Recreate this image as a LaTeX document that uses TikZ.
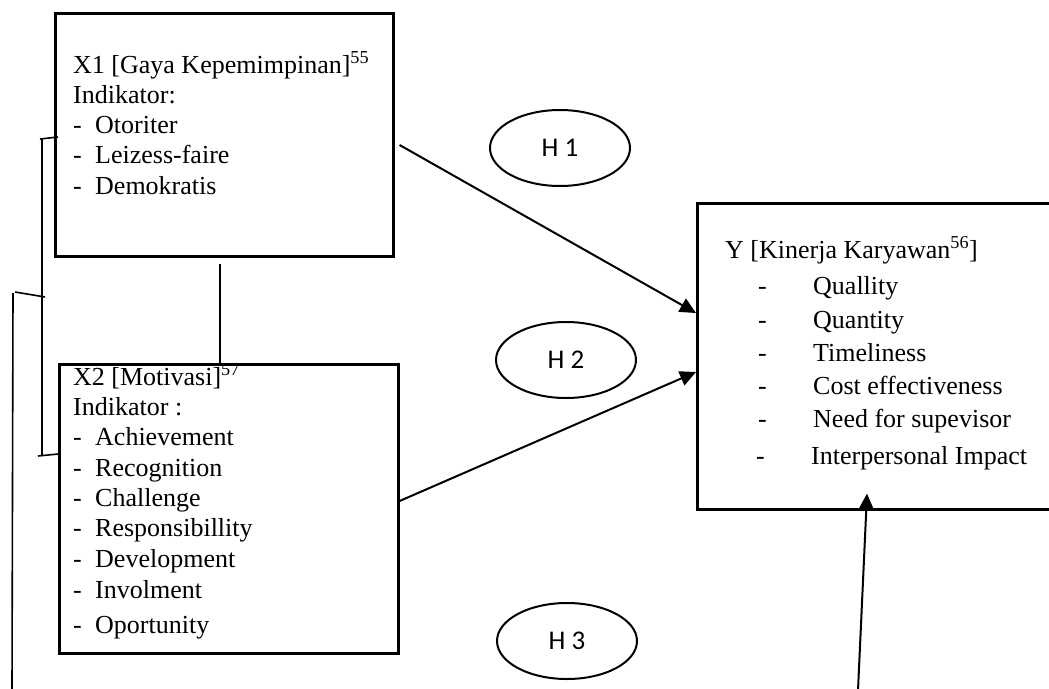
\documentclass[tikz,border=0pt]{standalone}
\usepackage{fontspec}
\setmainfont{Liberation Serif}
\newfontfamily\hfont{Carlito}
\usetikzlibrary{arrows.meta,shapes.geometric,calc}
\newcommand\itmx[1]{\makebox[22pt][l]{-}#1}
\newcommand\itmy[1]{\makebox[55pt][l]{-}#1}
\begin{document}
\begin{tikzpicture}[x=1pt,y=-1pt,
  box/.style={draw,line width=2.6pt,inner sep=0pt,anchor=north west},
  txt/.style={anchor=base west,inner sep=0pt,font=\fontsize{26}{30}\selectfont},
  hyp/.style={draw,ellipse,line width=2pt,inner sep=0pt,minimum width=140pt,minimum height=76pt,font=\hfont\fontsize{27}{30}\selectfont},
  arr/.style={line width=2pt,-{Triangle[length=16pt,width=15pt]}},
  thinline/.style={line width=1.6pt}]
\useasboundingbox (0,0) rectangle (1049,688);

% boxes
\node[box,minimum width=338pt,minimum height=243pt] (x1) at (54,12) {};
\node[box,minimum width=339pt,minimum height=289pt] (x2) at (58,363) {};
\node[box,minimum width=400pt,minimum height=306pt] (y) at (696,202) {};

% X1 text
\node[txt] (x1a) at (73,73) {X1 [Gaya Kepemimpinan]\textsuperscript{55}};
\node[txt] (x1b) at (73,103) {Indikator:};
\node[txt] (x1c) at (73,133) {\itmx{Otoriter}};
\node[txt] (x1d) at (73,163) {\itmx{Leizess-faire}};
\node[txt] (x1e) at (73,194) {\itmx{Demokratis}};

% X2 text (clipped to its box)
\begin{scope}
\clip (58,363) rectangle (397,652);
\node[txt] (x2a) at (73,385) {X2 [Motivasi]\textsuperscript{57}};
\end{scope}
\node[txt] (x2b) at (73,415) {Indikator :};
\node[txt] (x2c) at (73,445) {\itmx{Achievement}};
\node[txt] (x2d) at (73,476) {\itmx{Recognition}};
\node[txt] (x2e) at (73,506) {\itmx{Challenge}};
\node[txt] (x2f) at (73,536) {\itmx{Responsibillity}};
\node[txt] (x2g) at (73,567) {\itmx{Development}};
\node[txt] (x2h) at (73,598) {\itmx{Involment}};
\node[txt] (x2i) at (73,633) {\itmx{Oportunity}};

% Y text
\node[txt] (ya) at (725,258) {Y [Kinerja Karyawan\textsuperscript{56}]};
\node[txt] (yb) at (758,294) {\itmy{Quallity}};
\node[txt] (yc) at (758,328) {\itmy{Quantity}};
\node[txt] (yd) at (758,361) {\itmy{Timeliness}};
\node[txt] (ye) at (758,394) {\itmy{Cost effectiveness}};
\node[txt] (yf) at (758,427) {\itmy{Need for supevisor}};
\node[txt] (yg) at (756,464) {\itmy{Interpersonal Impact}};

% hypotheses
\node[hyp] (h1) at (560,148) {H 1};
\node[hyp] (h2) at (566,360) {H 2};
\node[hyp] (h3) at (567,641) {H 3};

% connector points
\coordinate (a1s) at ($(x1.north east)+(5,133)$);
\coordinate (a1e) at ($(y.north west)+(0,111)$);
\coordinate (a2s) at ($(x2.north east)+(0,138)$);
\coordinate (a2e) at ($(y.north west)+(0,170)$);
\coordinate (a3s) at (858,690);
\coordinate (a3e) at ($(y.south west)+(171,-17)$);

\draw[arr] (a1s) -- (a1e);
\draw[arr] (a2s) -- (a2e);
\draw[arr] (a3s) -- (a3e);

% vertical line between X1 and X2
\coordinate (v1) at (220,264);
\draw[thinline] (v1) -- (v1 |- x2.north);

% brackets
\coordinate (bt1) at (40,139);
\coordinate (bt2) at (42,138);
\coordinate (bb1) at (38,456);
\coordinate (bb2) at (42,455);
\coordinate (bm1) at (15,292);
\coordinate (bm2) at (45,297);
\coordinate (bo1) at (13,293);
\coordinate (bo2) at (12,690);
\draw[thinline] (bt1) -- ($(x1.north west)+(4,125)$);
\draw[thinline] (bt2) -- (bb2);
\draw[thinline] (bb1) -- ($(x2.north west)+(0,91)$);
\draw[thinline] (bm1) -- (bm2);
\draw[thinline] (bo1) -- (bo2);
\end{tikzpicture}
\end{document}
